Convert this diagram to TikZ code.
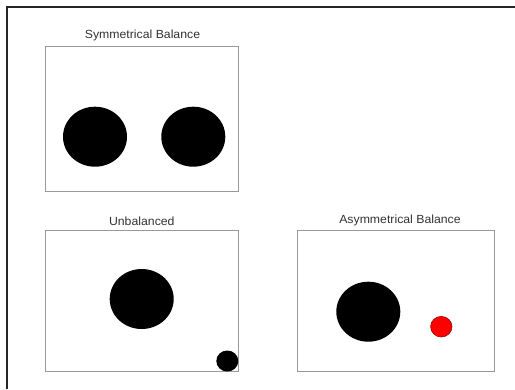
\documentclass[tikz,border=0pt]{standalone}
\usepackage{fontspec}
\setmainfont{Liberation Sans}
\begin{document}
\begin{tikzpicture}[x=1pt,y=-1pt,
  panel/.style={draw=black!40, line width=0.9pt},
  ttl/.style={inner sep=0pt, font=\fontsize{11.8}{12}\selectfont, text=black!80, xscale=1.04},
  blob/.style={fill=black},
  redblob/.style={fill=red, draw=red!60!black, line width=0.6pt}]
\useasboundingbox (0,0) rectangle (515,389);
\fill[white] (0,0) rectangle (515,389);
\draw[line width=2pt, black!85] (6.5,389) -- (6.5,6.5) -- (515,6.5);
% Symmetrical
\draw[panel] (45,46.5) rectangle (238,191.5);
\node[ttl] (t1) at (142.5,35.7) {Symmetrical Balance};
\fill[blob] (95,136.7) ellipse [x radius=32, y radius=30];
\fill[blob] (193.3,136.7) ellipse [x radius=32, y radius=30];
% Unbalanced
\draw[panel] (45,230.7) rectangle (238,371.7);
\node[ttl] (t2) at (141.8,221.7) {Unbalanced};
\fill[blob] (141.7,299) ellipse [x radius=32, y radius=30];
\fill[blob] (227.3,361) ellipse [x radius=11, y radius=10.5];
% Asymmetrical
\draw[panel] (297.3,230.7) rectangle (494.7,371.7);
\node[ttl] (t3) at (400,220.2) {Asymmetrical Balance};
\fill[blob] (368.3,311.7) ellipse [x radius=32, y radius=30];
\draw[redblob] (441.3,326.7) ellipse [x radius=10.7, y radius=10.3];
\end{tikzpicture}
\end{document}
